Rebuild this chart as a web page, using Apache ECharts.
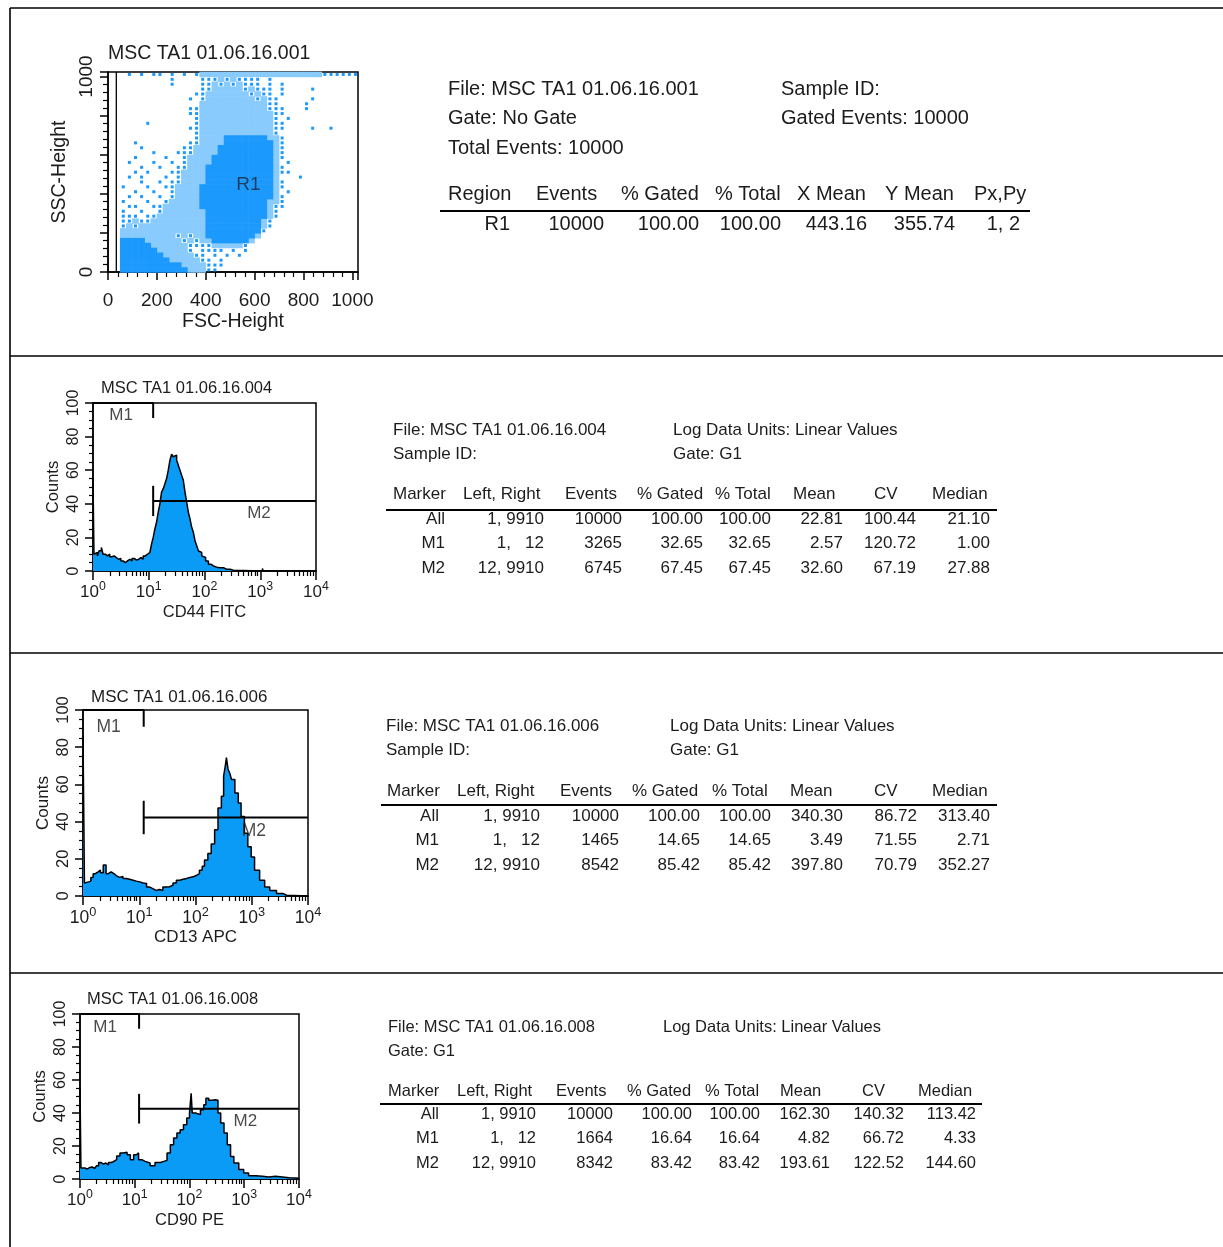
<!DOCTYPE html>
<html><head><meta charset="utf-8">
<script src="https://cdn.jsdelivr.net/npm/echarts@6/dist/echarts.min.js"></script>
<style>html,body{margin:0;padding:0;background:#fff}#c{width:1223px;height:1247px}</style>
</head><body><div id="c"></div>
<script>
// ---------- DATA ----------
// FSC/SSC dot plot: density, 25-unit cells, rows from top (SSC ~1012) to bottom (~12), columns FSC 12.5..1012.5
// 0 empty, 1 sparse, 2 speckled, 3 solid
const scatterRows = [
"00010101101010122222222222222222222111111",
"00000000001000011121211110100000000000000",
"00000000001000011212121110101000000000000",
"00000000000000011222221211101000010000000",
"00000000000000112222222121101000000000000",
"00000000000001012222222212110000010000000",
"00000000000000022222222222110000100000000",
"00000000000001122222222222111000100000000",
"00000000000001122222222222211000000000000",
"00000000000000122222222222210100000000000",
"00000010000000122222222222211000000000000",
"00000000000001122222222222211000010010000",
"00000000000000122222222222210000000000000",
"00000000000000122223333333221000000000000",
"00001000000001122223333333321000000000000",
"00000100000011222233333333321000000000000",
"00000001000111222233333333321000000000000",
"00001000010012222333333333321000000000000",
"00010001001012222333333333320100000000000",
"00000100100112223333333333321000000000000",
"00001010001122223333333333321100000000000",
"00010100010122223333333333320001000000000",
"00000100101122223333333333321000000000000",
"00100010011222233333333333321000000000000",
"00001001001222233333333333320100000000000",
"00010100101222233333333333321000000000000",
"00100010012222233333333333221000000000000",
"00011001122222233333333333211000000000000",
"00100100122222223333333333210000000000000",
"00111011222222223333333333210000000000000",
"00112112222222223333333332100000000000000",
"00121222222222223333333332100000000000000",
"00222222222222223333333331000000000000000",
"00222222222121223333333320000000000000000",
"00333322222212122333333200000000000000000",
"00333332222221111222221000000000000000000",
"00333333222221011110101000000000000000000",
"00333333322222110101010000000000000000000",
"00333333332222211010000000000000000000000",
"00333333333322221110000000000000000000000",
"00333333333332221100000000000000000000000"
];
const scatterCell = 25;
const regionLabel = { name: 'R1', fsc: 575, ssc: 446 };
const fscTicks = [0, 200, 400, 600, 800, 1000];
const sscTicks = [0, 1000];

// Histograms: fluorescence value (log axis) and counts
const cd44Fl = [1,1.04,1.122,1.202,1.288,1.413,1.514,1.66,1.82,1.995,2.188,2.399,2.63,2.884,3.162,3.467,3.802,4.169,4.571,5.012,5.495,6.026,6.607,7.244,7.943,8.71,9.55,10.47,11.22,12.02,12.88,13.8,14.79,15.85,16.98,18.2,19.5,20.89,22.39,23.99,25.7,27.54,29.51,31.62,33.88,36.31,38.9,41.69,44.67,47.86,51.29,54.95,58.88,63.1,67.61,72.44,77.62,83.18,89.13,95.5,104.7,117.5,131.8,144.5,166,190.5,218.8,251.2,288.4,331.1,1096,1122,10000];
const cd44Counts = [55,10,11,9,12,14,10,9,10,8.5,9,8,7,7.5,6,5,6,7,6,7.5,6.5,7,8,7,9,10,11,12,16,20,25,29,35,40,47,49,52,55,60,66,69.5,68,69,66,63,60,57,54,47,41,35,31,26,23,18,15,12,11,9,8,6,4,3,2.3,2,2,1,1,0.5,0,1.5,0,0];

const cd13Fl = [1,1.03,1.06,1.148,1.259,1.38,1.514,1.66,1.862,2.042,2.291,2.57,2.818,3.162,3.548,3.89,4.467,5.129,5.888,6.761,7.762,8.913,10.23,11.75,13.49,15.14,17.38,19.95,22.91,26.3,30.2,34.67,39.81,45.71,52.48,60.26,69.18,79.43,91.2,102.3,117.5,131.8,144.5,166,190.5,218.8,251.2,288.4,316.2,338.8,354.8,380.2,407.4,436.5,501.2,575.4,645.7,741.3,851.1,977.2,1122,1380,1698,2089,2754,3631,4169,10000];
const cd13Counts = [86,47,7,7.6,8,10,12,13,14,12.5,16.6,12,13,12,11,10,10.5,9.4,9,8.5,8,7.6,7,6.7,4.9,4,3,3.5,3,4.9,5,5.8,7,8.5,9,9.4,10,10.3,11,12,13.9,16,19.3,22.9,28,35.6,47.3,53.6,64.4,70,74.4,68,66,62.6,55.4,50,42.8,33.8,26.5,21,13.9,8.5,4.9,3,1.3,0.4,0,0];

const cd90Fl = [1,1.04,1.23,1.349,1.514,1.66,1.862,1.995,2.188,2.399,2.692,2.951,3.311,3.715,4.074,4.677,5.37,6.166,7.244,8.318,9.55,10.72,11.75,13.49,15.49,19.05,23.44,29.51,33.88,38.9,44.67,51.29,58.88,67.61,77.62,89.13,100,107.2,112.2,128.8,138,158.5,182,199.5,223.9,257,295.1,331.1,371.5,426.6,489.8,562.3,645.7,794.3,977.2,1202,1622,2138,2818,3715,5012,6607,8710,10000];
const cd90Counts = [55,6.7,6,7,7.3,6.5,6,8,10,9,9.7,8.5,10,10.5,11.7,14,15.8,16.2,14.7,11.7,14.7,15.8,11.7,10.7,9.7,8,10,10.7,11.3,15.8,20.8,24.8,27.9,29.9,32.9,37,40,52,40,41,39,42,45,49,47.7,48,47.7,40,34,27.9,20.8,13.7,9.7,5.7,3.6,2,1.6,1.2,1.6,1.2,0.8,0.6,0.4,0];

// Markers (Left, Right) and display levels
const m1Range = [1, 12];
const m2Range = [12, 9910];
const m2Levels = [41.7, 42.2, 42.6];
const markerLabelPos = [
  { M1: [3.2, 92.7], M2: [950, 34.3] },
  { M1: [2.86, 90.8], M2: [1090, 35.1] },
  { M1: [2.87, 91.7], M2: [1050, 34.7] }
];
const logDecades = [1, 10, 100, 1000, 10000];
const logMinor = [2,3,4,5,6,7,8,9,20,30,40,50,60,70,80,90,200,300,400,500,600,700,800,900,2000,3000,4000,5000,6000,7000,8000,9000];

// Text content
const plotTitles = ['MSC TA1 01.06.16.001', 'MSC TA1 01.06.16.004', 'MSC TA1 01.06.16.006', 'MSC TA1 01.06.16.008'];
const histAxisNames = ['CD44 FITC', 'CD13 APC', 'CD90 PE'];
const info1Left = ['File: MSC TA1 01.06.16.001', 'Gate: No Gate', 'Total Events: 10000'];
const info1Right = ['Sample ID:', 'Gated Events: 10000'];
const regionHeader = ['Region', 'Events', '% Gated', '% Total', 'X Mean', 'Y Mean', 'Px,Py'];
const regionRow = ['R1', '10000', '100.00', '100.00', '443.16', '355.74', '1, 2'];
const markerHeader = ['Marker', 'Left, Right', 'Events', '% Gated', '% Total', 'Mean', 'CV', 'Median'];
const cd44Info = [['File: MSC TA1 01.06.16.004', 'Sample ID:'], ['Log Data Units: Linear Values', 'Gate: G1']];
const cd13Info = [['File: MSC TA1 01.06.16.006', 'Sample ID:'], ['Log Data Units: Linear Values', 'Gate: G1']];
const cd90Info = [['File: MSC TA1 01.06.16.008', 'Gate: G1'], ['Log Data Units: Linear Values']];
const cd44Rows = [
  ['All', '1, 9910', '10000', '100.00', '100.00', '22.81', '100.44', '21.10'],
  ['M1', '1,   12', '3265', '32.65', '32.65', '2.57', '120.72', '1.00'],
  ['M2', '12, 9910', '6745', '67.45', '67.45', '32.60', '67.19', '27.88']
];
const cd13Rows = [
  ['All', '1, 9910', '10000', '100.00', '100.00', '340.30', '86.72', '313.40'],
  ['M1', '1,   12', '1465', '14.65', '14.65', '3.49', '71.55', '2.71'],
  ['M2', '12, 9910', '8542', '85.42', '85.42', '397.80', '70.79', '352.27']
];
const cd90Rows = [
  ['All', '1, 9910', '10000', '100.00', '100.00', '162.30', '140.32', '113.42'],
  ['M1', '1,   12', '1664', '16.64', '16.64', '4.82', '66.72', '4.33'],
  ['M2', '12, 9910', '8342', '83.42', '83.42', '193.61', '122.52', '144.60']
];

// ---------- LAYOUT ----------
const FONT = '"Liberation Sans", Arial, Helvetica, sans-serif';
const ink = '#1c1c1c';
const dotBlue = '#1c99fd';
const speckleBlue = '#8acbfe';
const fillBlue = '#0a9bf7';
const gridBoxes = [
  { left: 108, top: 72, width: 250, height: 200 },
  { left: 93, top: 403, width: 223, height: 168 },
  { left: 83, top: 710, width: 225, height: 186 },
  { left: 80, top: 1014, width: 219, height: 165 }
];
const histFont = [16.5, 17, 16.5];

// ---------- BUILD ----------
const chart = echarts.init(document.getElementById('c'), null, { renderer: 'canvas' });

const grid = gridBoxes.map(g => Object.assign({
  show: true, borderColor: '#000', borderWidth: 1.5, backgroundColor: 'transparent',
  containLabel: false, outerBoundsMode: 'none'
}, g));

const blackLine = w => ({ color: '#000', width: w });
const xAxis = [];
const yAxis = [];

// scatter axes
xAxis.push({
  gridIndex: 0, type: 'value', min: 0, max: 1023, interval: 200, position: 'bottom',
  axisLine: { show: true, onZero: false, lineStyle: blackLine(1.5) },
  axisTick: { show: true, inside: false, length: 8, lineStyle: blackLine(1.5) },
  minorTick: { show: true, splitNumber: 5, length: 5, lineStyle: blackLine(1.2) },
  splitLine: { show: false }, minorSplitLine: { show: false },
  axisLabel: { show: true, margin: 19, fontSize: 19, color: ink, fontFamily: FONT, hideOverlap: false,
    showMinLabel: true, showMaxLabel: true,
    formatter: v => fscTicks.indexOf(v) >= 0 ? String(v) : '' },
  name: 'FSC-Height', nameLocation: 'middle', nameGap: 40,
  nameTextStyle: { fontSize: 19.5, color: ink, fontFamily: FONT }
});
yAxis.push({
  gridIndex: 0, type: 'value', min: 0, max: 1023, interval: 200, position: 'left',
  axisLine: { show: true, onZero: false, lineStyle: blackLine(1.5) },
  axisTick: { show: true, inside: false, length: 8, lineStyle: blackLine(1.5) },
  minorTick: { show: true, splitNumber: 5, length: 5, lineStyle: blackLine(1.2) },
  splitLine: { show: false }, minorSplitLine: { show: false },
  axisLabel: { show: true, rotate: 90, margin: 12, fontSize: 19, color: ink, fontFamily: FONT, hideOverlap: false,
    showMinLabel: true, showMaxLabel: true,
    formatter: v => sscTicks.indexOf(v) >= 0 ? String(v) : '' },
  name: 'SSC-Height', nameLocation: 'middle', nameRotate: 90, nameGap: 38,
  nameTextStyle: { fontSize: 19.5, color: ink, fontFamily: FONT }
});

function supLabel(v) {
  const e = Math.round(Math.log10(v));
  return '{b|10}{s|' + e + '}';
}

for (let h = 0; h < 3; h++) {
  const gi = h + 1, fs = histFont[h];
  xAxis.push({
    gridIndex: gi, type: 'log', logBase: 10, min: 1, max: 10000, position: 'bottom',
    axisLine: { show: true, onZero: false, lineStyle: blackLine(1.5) },
    axisTick: { show: true, inside: false, length: 9, lineStyle: blackLine(1.5) },
    minorTick: { show: false }, splitLine: { show: false },
    axisLabel: { show: true, margin: 10, hideOverlap: false, showMinLabel: true, showMaxLabel: true,
      customValues: logDecades,
      formatter: supLabel,
      rich: {
        b: { fontSize: fs + 0.5, color: ink, fontFamily: FONT, verticalAlign: 'bottom' },
        s: { fontSize: fs * 0.75, color: ink, fontFamily: FONT, verticalAlign: 'bottom', padding: [0, 0, fs * 0.5, 0] }
      } },
    name: histAxisNames[h], nameLocation: 'middle', nameGap: 33,
    nameTextStyle: { fontSize: fs, color: ink, fontFamily: FONT }
  });
  xAxis.push({
    gridIndex: gi, type: 'log', logBase: 10, min: 1, max: 10000, position: 'bottom',
    axisLine: { show: false },
    axisTick: { show: true, inside: false, length: 5, customValues: logMinor, lineStyle: blackLine(1.2) },
    axisLabel: { show: false }, splitLine: { show: false }, minorTick: { show: false }
  });
  yAxis.push({
    gridIndex: gi, type: 'value', min: 0, max: 100, interval: 20, position: 'left',
    axisLine: { show: true, onZero: false, lineStyle: blackLine(1.5) },
    axisTick: { show: true, inside: false, length: 8, lineStyle: blackLine(1.5) },
    minorTick: { show: true, splitNumber: 4, length: 4, lineStyle: blackLine(1.2) },
    splitLine: { show: false }, minorSplitLine: { show: false },
    axisLabel: { show: true, rotate: 90, margin: 11, fontSize: fs - 0.5, color: ink, fontFamily: FONT,
      hideOverlap: false, showMinLabel: true, showMaxLabel: true },
    name: 'Counts', nameLocation: 'middle', nameRotate: 90, nameGap: 31,
    nameTextStyle: { fontSize: fs, color: ink, fontFamily: FONT }
  });
}

const series = [];

// scatter density
const levelData = { 1: [], 2: [], 3: [] };
scatterRows.forEach((row, j) => {
  for (let i = 0; i < row.length; i++) {
    const lv = row.charAt(i);
    if (lv !== '0') {
      levelData[lv].push([scatterCell / 2 + scatterCell * i, 1023 - scatterCell / 2 - scatterCell * j]);
    }
  }
});
const cellW = 250 * scatterCell / 1023 + 0.6, cellH = 200 * scatterCell / 1023 + 0.6;
series.push({ type: 'scatter', xAxisIndex: 0, yAxisIndex: 0, data: levelData[2], symbol: 'rect',
  symbolSize: [cellW, cellH], itemStyle: { color: speckleBlue, opacity: 1 }, silent: true, z: 2 });
series.push({ type: 'scatter', xAxisIndex: 0, yAxisIndex: 0, data: levelData[3], symbol: 'rect',
  symbolSize: [cellW, cellH], itemStyle: { color: dotBlue, opacity: 1 }, silent: true, z: 3 });
series.push({ type: 'scatter', xAxisIndex: 0, yAxisIndex: 0, data: levelData[1], symbol: 'rect',
  symbolSize: [3, 3], itemStyle: { color: dotBlue, opacity: 1 }, silent: true, z: 3 });
series.push({ type: 'line', xAxisIndex: 0, yAxisIndex: 0, data: [[34, 0], [34, 1023]], symbol: 'none',
  lineStyle: { color: '#000', width: 1.3 }, silent: true, z: 4 });
series.push({ type: 'scatter', xAxisIndex: 0, yAxisIndex: 0, symbolSize: 0, silent: true, z: 5,
  data: [{ name: regionLabel.name, value: [regionLabel.fsc, regionLabel.ssc] }],
  label: { show: true, position: 'inside', formatter: '{b}', fontSize: 19, color: '#1a2838', fontFamily: FONT } });

const histData = [[cd44Fl, cd44Counts], [cd13Fl, cd13Counts], [cd90Fl, cd90Counts]];
histData.forEach((hd, h) => {
  const xi = 1 + 2 * h, yi = 1 + h;
  series.push({ type: 'line', xAxisIndex: xi, yAxisIndex: yi, step: 'end', symbol: 'none',
    data: hd[0].map((x, k) => [x, hd[1][k]]),
    lineStyle: { color: '#000', width: 1.5 }, areaStyle: { color: fillBlue, opacity: 1 },
    silent: true, z: 2 });
  const mk = { type: 'line', xAxisIndex: xi, yAxisIndex: yi, symbol: 'none', clip: false,
    lineStyle: { color: '#000', width: 2 }, silent: true, z: 4 };
  series.push(Object.assign({}, mk, { data: [[m1Range[0], 100], [m1Range[1], 100], [m1Range[1], 91]] }));
  series.push(Object.assign({}, mk, { data: [[m2Range[0], m2Levels[h] + 9], [m2Range[0], m2Levels[h] - 9]] }));
  series.push(Object.assign({}, mk, { data: [[m2Range[0], m2Levels[h]], [m2Range[1], m2Levels[h]]] }));
  const lp = markerLabelPos[h];
  series.push({ type: 'scatter', xAxisIndex: xi, yAxisIndex: yi, symbolSize: 0, silent: true, z: 5,
    data: [{ name: 'M1', value: lp.M1 }, { name: 'M2', value: lp.M2 }],
    label: { show: true, position: 'inside', formatter: '{b}', fontSize: histFont[h] + 0.5, color: ink, fontFamily: FONT } });
});

// ---------- GRAPHIC (frame lines and tables) ----------
const graphic = [];
function hline(x1, x2, y, w) {
  graphic.push({ type: 'line', silent: true, shape: { x1: x1, y1: y, x2: x2, y2: y }, style: { stroke: '#000', lineWidth: w } });
}
function vline(x, y1, y2, w) {
  graphic.push({ type: 'line', silent: true, shape: { x1: x, y1: y1, x2: x, y2: y2 }, style: { stroke: '#000', lineWidth: w } });
}
function txt(s, x, y, size, align) {
  graphic.push({ type: 'text', silent: true, x: x, y: y,
    style: { text: s, fill: ink, font: size + 'px ' + FONT, align: align || 'left', verticalAlign: 'middle' } });
}

hline(10, 1223, 8, 1.6);
vline(10, 8, 1247, 1.6);
hline(10, 1223, 356, 1.6);
hline(10, 1223, 653, 1.6);
hline(10, 1223, 973, 1.6);

// plot titles
txt(plotTitles[0], 108, 54, 19.5);
txt(plotTitles[1], 101, 388, 16.5);
txt(plotTitles[2], 91, 697, 17);
txt(plotTitles[3], 87, 999, 16.5);

// panel 1 table
info1Left.forEach((s, k) => txt(s, 448, 89 + 29.5 * k, 20));
info1Right.forEach((s, k) => txt(s, 781, 89 + 29.5 * k, 20));
const p1HeadX = [448, 536, 621, 715, 797, 885, 974];
const p1ValR = [510, 604, 699, 781, 867, 955, 1020];
regionHeader.forEach((s, k) => txt(s, p1HeadX[k], 194, 20));
hline(440, 1030, 211, 2);
regionRow.forEach((s, k) => txt(s, p1ValR[k], 224, 20, 'right'));

// marker tables
const tables = [
  { info: cd44Info, infoX: [393, 673], infoY: 430, rows: cd44Rows, fs: 17,
    headX: [393, 463, 565, 637, 715, 793, 874, 932], valR: [445, 544, 622, 703, 771, 843, 916, 990],
    headY: 494, lineY: 510, lineX: [386, 997], rowY: [519, 543.5, 568] },
  { info: cd13Info, infoX: [386, 670], infoY: 726, rows: cd13Rows, fs: 17,
    headX: [387, 457, 560, 632, 712, 790, 874, 932], valR: [439, 540, 619, 700, 771, 843, 917, 990],
    headY: 791, lineY: 805, lineX: [381, 997], rowY: [816, 840.5, 865] },
  { info: cd90Info, infoX: [388, 663], infoY: 1027, rows: cd90Rows, fs: 16.5,
    headX: [388, 457, 556, 627, 705, 780, 862, 918], valR: [439, 536, 613, 692, 760, 830, 904, 976],
    headY: 1091, lineY: 1104, lineX: [380, 982], rowY: [1114, 1138.5, 1163] }
];
tables.forEach(t => {
  t.info.forEach((col, c) => col.forEach((s, k) => txt(s, t.infoX[c], t.infoY + 24 * k, t.fs)));
  markerHeader.forEach((s, k) => txt(s, t.headX[k], t.headY, t.fs));
  hline(t.lineX[0], t.lineX[1], t.lineY, 2);
  t.rows.forEach((r, ri) => r.forEach((s, k) => txt(s, t.valR[k], t.rowY[ri], t.fs, 'right')));
});

chart.setOption({
  animation: false,
  backgroundColor: '#fff',
  grid: grid,
  xAxis: xAxis,
  yAxis: yAxis,
  series: series,
  graphic: { elements: graphic }
});
</script></body></html>
